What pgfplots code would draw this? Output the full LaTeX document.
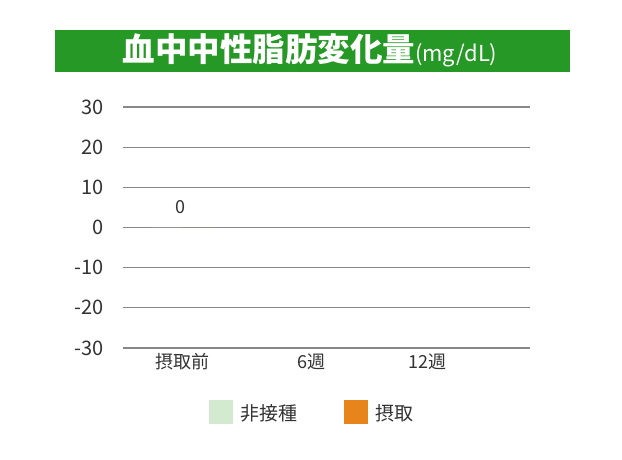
\documentclass[border=0pt]{standalone}
\usepackage{pgfplots}
\pgfplotsset{compat=1.18}
\usepackage{fontspec}
\setmainfont{Noto Sans CJK JP}
\definecolor{titlegreen}{RGB}{38,152,38}
\definecolor{lgreen}{RGB}{212,234,208}
\definecolor{orng}{RGB}{232,132,28}
\definecolor{txt}{RGB}{51,51,51}
\definecolor{gridc}{RGB}{136,136,136}
\begin{document}
\begin{tikzpicture}[x=1pt,y=1pt]
\path[fill=white] (0,0) rectangle (622,460);
\fill[titlegreen] (55,388) rectangle (570,430);
\node[text=white,font=\fontsize{32.5}{34}\selectfont\bfseries] at (310,410) {血中中性脂肪変化量{\fontsize{22}{23}\selectfont\mdseries(mg/dL)}};
\begin{axis}[
  at={(123pt,112pt)}, anchor=south west,
  scale only axis, width=407pt, height=241pt,
  xmin=-0.49, xmax=2.84,
  ymin=-30, ymax=30,
  ytick={-30,-20,...,30},
  xtick={0,1.05,2.0},
  xticklabels={摂取前,6週,12週},
  axis line style={draw=none},
  major tick length=0pt,
  ymajorgrids,
  grid style={gridc, line width=1.3pt},
  yticklabel style={font=\fontsize{20}{21}\selectfont, text=txt, xshift=-16pt},
  xticklabel style={font=\fontsize{18}{20}\selectfont, text=txt, yshift=-2pt},
  /pgf/number format/assume math mode=true,
  ybar, bar width=30pt,
  legend style={at={(0.465,-0.266)}, anchor=center, draw=none,
    legend columns=2, font=\fontsize{19}{20}\selectfont, text=txt,
    /tikz/every even column/.append style={column sep=44pt}},
  legend image code/.code={\fill[#1] (0pt,-11pt) rectangle (24pt,13pt);},
  legend cell align=left,
]
\addplot[fill=lgreen, draw=none] coordinates {(0,0)};
\addlegendentry{\hspace{6pt}非接種}
\addplot[fill=orng, draw=none, nodes near coords, every node near coord/.append style={font=\fontsize{18}{19}\selectfont, text=txt, xshift=-18pt, yshift=10pt}] coordinates {(0,0)};
\addlegendentry{\hspace{6pt}摂取}
\end{axis}
\end{tikzpicture}
\end{document}
